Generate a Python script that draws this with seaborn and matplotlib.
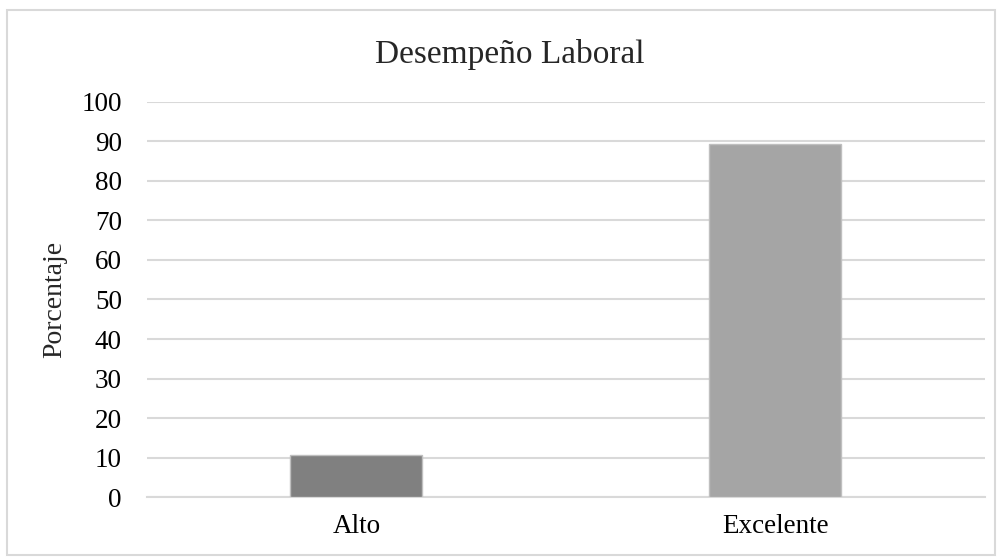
import matplotlib
matplotlib.use("Agg")
import matplotlib.pyplot as plt
import pandas as pd
import seaborn as sns
from matplotlib.patches import Rectangle

# Datos
categorias = ["Alto", "Excelente"]
porcentajes = [10.7, 89.3]
colores = ["#808080", "#A5A5A5"]

df = pd.DataFrame({"categoria": categorias, "porcentaje": porcentajes})

sns.set_theme(style="white")
plt.rcParams["font.family"] = ["Liberation Serif", "DejaVu Serif"]

fig = plt.figure(figsize=(10.02, 5.57), dpi=100)
ax = fig.add_axes([0.1467, 0.1077, 0.836, 0.7092])

sns.barplot(x="categoria", y="porcentaje", data=df, hue="categoria",
            palette=colores, width=0.315, legend=False, ax=ax,
            edgecolor="#BFBFBF", linewidth=1, zorder=3)

ax.set_ylim(0, 100)
ax.set_yticks(range(0, 101, 10))
ax.set_xlim(-0.5, 1.5)
ax.yaxis.grid(True, color="#D9D9D9", linewidth=1.5, zorder=0)
ax.set_axisbelow(True)
for s in ["top", "right", "left"]:
    ax.spines[s].set_visible(False)
ax.spines["bottom"].set_color("#D9D9D9")
ax.spines["bottom"].set_linewidth(1.5)
ax.tick_params(axis="both", labelsize=19.5, length=0, colors="black")
ax.tick_params(axis="y", pad=18)
ax.tick_params(axis="x", pad=12)

ax.set_xlabel("")
ax.set_ylabel("Porcentaje", fontsize=20, labelpad=10)
fig.text(510 / 1002, 1 - 55 / 557, "Desempeño Laboral", fontsize=24,
         ha="center", va="center")

# Borde exterior del gráfico
fig.patches.append(Rectangle((7 / 1002, 2 / 557), 988 / 1002, 545 / 557,
                             transform=fig.transFigure, fill=False,
                             edgecolor="#D9D9D9", linewidth=1.5))

fig.savefig("out.png", dpi=100, facecolor="white")
